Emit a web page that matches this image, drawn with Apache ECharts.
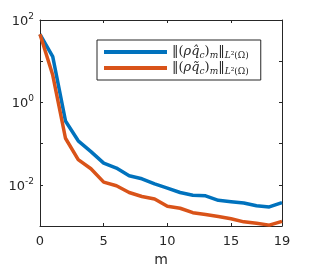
<!DOCTYPE html>
<html>
<head>
<meta charset="utf-8">
<script src="https://cdn.jsdelivr.net/npm/echarts@6/dist/echarts.min.js"></script>
<style>html,body{margin:0;padding:0;background:#fff}#c{width:309px;height:272px}</style>
</head>
<body>
<div id="c"></div>
<script>
var mValues = [0,1,2,3,4,5,6,7,8,9,10,11,12,13,14,15,16,17,18,19];
var hatSeries = [45,12.9,0.355,0.117,0.064,0.0336,0.0254,0.0166,0.014,0.0105,0.0083,0.0065,0.0056,0.0054,0.0042,0.0039,0.0036,0.0031,0.0029,0.0037];
var tildeSeries = [45,4.6,0.135,0.041,0.0245,0.0116,0.0095,0.0065,0.0052,0.0045,0.003,0.0027,0.0021,0.0019,0.0017,0.0015,0.00126,0.00117,0.00105,0.0013];
var xTicks = [0,5,10,15,19];
var names = ['hat','tilde'];
var seriesColors = ['#0072BD','#D95319'];

function pairs(ys){ return mValues.map(function(m,i){ return [m, ys[i]]; }); }

var chart = echarts.init(document.getElementById('c'), null, {renderer:'canvas'});
var axisCol = '#262626';
var font = 'DejaVu Sans';
function yFmt(v){
  var e = Math.round(Math.log10(v));
  if (e % 2 !== 0) return '';
  return '{b|10}{s|' + e + '}';
}
var baseRich = {
  b:{fontFamily:font,fontSize:13,color:axisCol,lineHeight:16,verticalAlign:'bottom'},
  s:{fontFamily:font,fontSize:9,color:axisCol,lineHeight:16,verticalAlign:'top',padding:[0,0,8,0]}
};
var legRich = {
  n:{fontFamily:'DejaVu Serif',fontSize:13,color:axisCol,lineHeight:18},
  i:{fontFamily:'DejaVu Serif',fontStyle:'italic',fontSize:13,color:axisCol,lineHeight:18},
  sub:{fontFamily:'DejaVu Serif',fontStyle:'italic',fontSize:9,color:axisCol,lineHeight:18,padding:[7,0,0,0]},
  subn:{fontFamily:'DejaVu Serif',fontSize:9,color:axisCol,lineHeight:18,padding:[7,0,0,0]}
};
var option = {
  animation:false,
  backgroundColor:'#fff',
  grid:{left:40,top:20,right:27,bottom:46,containLabel:false},
  legend:{
    left:97, top:40, orient:'vertical',
    icon:'rect', itemWidth:63, itemHeight:4, itemGap:0,
    padding:[4,12,4,7],
    borderColor:axisCol, borderWidth:1, backgroundColor:'#fff',
    data:names,
    formatter:function(n){
      var acc = n === 'hat' ? '\u0302' : '\u0303';
      return '{n|\u2016(}{i|\u03c1q' + acc + '}{sub|c}{n|)}{sub|m}{n|\u2016}{sub|L}{subn|\u00b2(\u03a9)}';
    },
    textStyle:{rich:legRich}
  },
  xAxis:[{
    type:'value', min:0, max:19, interval:5,
    name:'m', nameLocation:'middle', nameGap:25,
    nameTextStyle:{fontFamily:font,fontSize:14,color:axisCol},
    axisLine:{show:true,onZero:false,lineStyle:{color:axisCol,width:1}},
    axisTick:{show:true,inside:true,length:3,lineStyle:{color:axisCol}},
    axisLabel:{fontFamily:font,fontSize:13,color:axisCol,margin:9,showMaxLabel:true},
    splitLine:{show:false}
  },{
    type:'value', min:0, max:19, interval:5, position:'top',
    axisLine:{show:true,onZero:false,lineStyle:{color:axisCol,width:1}},
    axisTick:{show:true,inside:true,length:3,lineStyle:{color:axisCol}},
    axisLabel:{show:false}, splitLine:{show:false}
  }],
  yAxis:[{
    type:'log', logBase:10, min:0.001, max:100,
    axisLine:{show:true,onZero:false,lineStyle:{color:axisCol,width:1}},
    axisTick:{show:true,inside:true,length:3,lineStyle:{color:axisCol}},
    axisLabel:{formatter:yFmt,rich:baseRich,margin:6},
    splitLine:{show:false}
  },{
    type:'log', logBase:10, min:0.001, max:100, position:'right',
    axisLine:{show:true,onZero:false,lineStyle:{color:axisCol,width:1}},
    axisTick:{show:true,inside:true,length:3,lineStyle:{color:axisCol}},
    axisLabel:{show:false}, splitLine:{show:false}
  }],
  series:[
    {name:names[0],type:'line',data:pairs(hatSeries),showSymbol:false,symbol:'none',clip:true,
     lineStyle:{color:seriesColors[0],width:3.5},itemStyle:{color:seriesColors[0]}},
    {name:names[1],type:'line',data:pairs(tildeSeries),showSymbol:false,symbol:'none',clip:true,
     lineStyle:{color:seriesColors[1],width:3.5},itemStyle:{color:seriesColors[1]}}
  ]
};
chart.setOption(option);
</script>
</body>
</html>
